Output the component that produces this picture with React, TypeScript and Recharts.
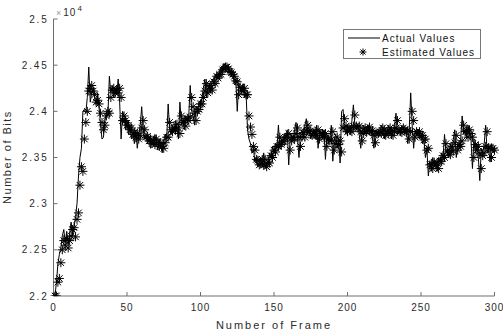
import { ComposedChart, Line, XAxis, YAxis, Legend, Label } from "recharts";

// bits per frame, frames 1..300
const actualBits = [
  22000, 22150, 22350, 22450, 22520, 22650, 22720, 22580, 22700, 22560,
  22680, 22800, 22650, 22750, 22860, 23000, 23300, 23500, 23600, 24000,
  24020, 23980, 24150, 24480, 24100, 24200, 24250, 24150, 24080, 24200,
  24050, 23850, 23700, 23720, 23900, 23980, 23950, 24380, 24200, 24280,
  24150, 24250, 24180, 24350, 24100, 23700, 24000, 23950, 23800, 23900,
  23750, 23850, 23700, 23780, 23650, 23800, 23600, 23750, 23850, 24050,
  23800, 23700, 23750, 23650, 23720, 23600, 23700, 23620, 23750, 23650,
  23580, 23700, 23620, 23550, 23680, 23750, 23700, 24080, 23800, 23750,
  23850, 23780, 23900, 23800, 23700, 24100, 23850, 23900, 23800, 23950,
  23880, 23950, 24280, 24000, 23950, 23850, 24050, 24000, 24100, 24050,
  24150, 24250, 24350, 24150, 24250, 24300, 24200, 24350, 24300, 24400,
  24350, 24420, 24380, 24480, 24450, 24520, 24480, 24500, 24420, 24450,
  24380, 24420, 24300, 24350, 24000, 24300, 24250, 24200, 24300, 24150,
  24200, 23800, 23700, 23650, 23550, 23600, 23450, 23500, 23400, 23450,
  23500, 23400, 23550, 23380, 23450, 23420, 23550, 23500, 23620, 23550,
  23650, 23600, 23850, 23600, 23700, 23650, 23750, 23700, 23800, 23420,
  23700, 23750, 23680, 23800, 23880, 23700, 23500, 23750, 23800, 23700,
  23850, 23920, 23750, 23800, 23700, 23750, 23800, 23700, 23850, 23600,
  23800, 23750, 23700, 23800, 23480, 23750, 23650, 23700, 23850, 23460,
  23700, 23750, 23600, 23700, 23440, 24000, 24020, 23800, 23750, 23850,
  23800, 23750, 23900, 24070, 23850, 23800, 23850, 23750, 23600, 23800,
  23850, 23750, 23800, 23850, 23750, 23800, 23700, 23600, 23800, 23750,
  23800, 23750, 23850, 23800, 23700, 23800, 23750, 23850, 23780, 23700,
  23800, 23850, 23980, 23750, 23800, 23750, 23850, 23800, 23750, 23800,
  23650, 23800, 24200, 23850, 23600, 23800, 23750, 23800, 23700, 23750,
  23650, 23700, 23500, 23600, 23300, 23450, 23350, 23500, 23400, 23450,
  23350, 23500, 23450, 23550, 23500, 23750, 23550, 23600, 23500, 23650,
  23550, 23700, 23800, 23500, 23650, 23600, 23700, 23950, 23750, 23800,
  23700, 23850, 23750, 23700, 23380, 23700, 23550, 23650, 23500, 23250,
  23600, 23550, 23650, 23850, 23550, 23600, 23450, 23650, 23550, 23600,
];

const estimatedBits = [
  22000, 22000, 22150, 22190, 22360, 22500, 22600, 22550, 22620, 22520,
  22600, 22650, 22720, 22740, 22640, 22830, 22900, 23200, 23400, 23350,
  23700, 23880, 24000, 24220, 24250, 24280, 24220, 24180, 24100, 24120,
  24080, 23980, 23880, 23800, 23850, 23950, 24000, 23980, 24150, 24230,
  24250, 24200, 24230, 24200, 24250, 24150, 23900, 23950, 23900, 23850,
  23850, 23800, 23820, 23750, 23770, 23720, 23760, 23700, 23740, 23820,
  23900, 23800, 23720, 23730, 23680, 23700, 23650, 23680, 23640, 23700,
  23660, 23620, 23660, 23620, 23600, 23660, 23720, 23720, 23880, 23800,
  23780, 23820, 23800, 23860, 23820, 23760, 23950, 23880, 23900, 23840,
  23920, 23900, 23940, 24150, 24050, 23980, 23900, 24000, 24020, 24080,
  24080, 24150, 24220, 24300, 24200, 24250, 24280, 24230, 24320, 24300,
  24380, 24360, 24400, 24400, 24450, 24460, 24480, 24480, 24460, 24430,
  24420, 24400, 24380, 24330, 24320, 24180, 24260, 24230, 24220, 24250,
  24180, 24180, 23950, 23830, 23750, 23620, 23580, 23480, 23470, 23420,
  23430, 23480, 23420, 23480, 23400, 23450, 23440, 23520, 23500, 23580,
  23560, 23620, 23620, 23720, 23640, 23680, 23670, 23720, 23720, 23760,
  23580, 23680, 23720, 23700, 23760, 23820, 23720, 23620, 23720, 23770,
  23720, 23800, 23850, 23780, 23790, 23740, 23760, 23780, 23740, 23800,
  23700, 23760, 23760, 23720, 23760, 23620, 23700, 23680, 23690, 23780,
  23580, 23650, 23720, 23640, 23680, 23560, 23820, 23920, 23840, 23780,
  23820, 23800, 23780, 23840, 23960, 23840, 23820, 23840, 23780, 23680,
  23760, 23820, 23780, 23800, 23830, 23780, 23790, 23740, 23660, 23760,
  23760, 23780, 23760, 23820, 23800, 23740, 23780, 23760, 23820, 23790,
  23740, 23780, 23820, 23900, 23800, 23780, 23770, 23820, 23800, 23780,
  23790, 23700, 23780, 24000, 23900, 23720, 23780, 23760, 23780, 23740,
  23740, 23690, 23700, 23580, 23600, 23420, 23430, 23380, 23450, 23420,
  23440, 23380, 23460, 23460, 23520, 23500, 23650, 23560, 23580, 23530,
  23620, 23570, 23660, 23740, 23580, 23640, 23620, 23680, 23850, 23780,
  23790, 23720, 23800, 23760, 23720, 23500, 23640, 23580, 23620, 23540,
  23380, 23520, 23550, 23620, 23780, 23600, 23600, 23500, 23600, 23580,
];

const xTicks = [0, 50, 100, 150, 200, 250, 300];
const yTicks = [22000, 22500, 23000, 23500, 24000, 24500, 25000];

const data = actualBits.map((v, i) => ({
  frame: i + 1,
  actual: v,
  estimated: estimatedBits[i],
}));

const FONT = "'Liberation Sans', Arial, sans-serif";
const AXIS = "#6e6e6e";
const TEXT = "#2b2b2b";

function starPath(cx: number, cy: number, r = 4.5) {
  const d = r * 0.72;
  return `M${cx - r},${cy}L${cx + r},${cy}M${cx},${cy - r}L${cx},${cy + r}` +
    `M${cx - d},${cy - d}L${cx + d},${cy + d}M${cx - d},${cy + d}L${cx + d},${cy - d}`;
}

const Star = (props: any) => {
  const { cx, cy, index } = props;
  if (cx == null || cy == null) return <g key={index} />;
  return <path key={index} d={starPath(cx, cy)} stroke="#000" strokeWidth={1} fill="none" />;
};

const renderLegend = () => (
  <div
    style={{
      width: 136,
      height: 28,
      border: "1px solid #777",
      background: "#fff",
      position: "relative",
    }}
  >
    <svg width={136} height={28} style={{ position: "absolute", left: 0, top: 0 }}>
      <line x1={4} y1={8} x2={36} y2={8} stroke="#000" strokeWidth={1} />
      <path d={starPath(19, 22, 3.5)} stroke="#000" strokeWidth={1} fill="none" />
      <text x={38} y={11.5} fontFamily={FONT} fontSize={10} fill="#111" style={{ letterSpacing: 1 }}>Actual Values</text>
      <text x={38} y={25.5} fontFamily={FONT} fontSize={10} fill="#111" style={{ letterSpacing: 1 }}>Estimated Values</text>
    </svg>
  </div>
);

const yTitle = () => (
  <g>
    <text
      x={11}
      y={157}
      transform="rotate(-90, 11, 157)"
      textAnchor="middle"
      fontFamily={FONT}
      fontSize={11}
      fill={TEXT}
      style={{ letterSpacing: 1.5 }}
    >
      Number of Bits
    </text>
    <text x={56} y={16} fontFamily={FONT} fontSize={10} fill={TEXT}>
      <tspan fill="#999" fontSize={9}>×</tspan>
      <tspan dx={2} style={{ letterSpacing: 1 }}>10</tspan>
      <tspan dx={1} dy={-5} fontSize={8}>4</tspan>
    </text>
  </g>
);

export default function App() {
  return (
    <div style={{ position: "absolute", left: 0, top: 0, width: 503, height: 335, background: "#fff" }}>
      <ComposedChart
        width={503}
        height={335}
        data={data}
        margin={{ top: 19, right: 8.5, bottom: 0, left: 0 }}
      >
        <XAxis
          dataKey="frame"
          type="number"
          domain={[0, 300]}
          ticks={xTicks}
          interval={0}
          height={39}
          tickSize={-4}
          tickMargin={12}
          axisLine={{ stroke: AXIS }}
          tickLine={{ stroke: AXIS }}
          tick={{ fontFamily: FONT, fontSize: 10, fill: TEXT, letterSpacing: 1 }}
        >
          <Label
            value="Number of Frame"
            position="insideBottom"
            offset={6}
            style={{ fontFamily: FONT, fontSize: 11, fill: TEXT, letterSpacing: 2 }}
          />
        </XAxis>
        <YAxis
          type="number"
          domain={[22000, 25000]}
          ticks={yTicks}
          interval={0}
          width={53.5}
          tickSize={-4}
          tickMargin={9}
          allowDataOverflow
          axisLine={{ stroke: AXIS }}
          tickLine={{ stroke: AXIS }}
          tickFormatter={(v: number) => String(v / 10000)}
          tick={{ fontFamily: FONT, fontSize: 10, fill: TEXT, letterSpacing: 1.8 }}
        >
          <Label content={yTitle} />
        </YAxis>
        <Legend
          layout="vertical"
          align="center"
          verticalAlign="middle"
          content={renderLegend}
          wrapperStyle={{ position: "absolute", left: 343, top: 29, width: 138, height: 30 }}
        />
        <Line
          dataKey="actual"
          type="linear"
          stroke="#000"
          strokeWidth={1}
          dot={false}
          activeDot={false}
          isAnimationActive={false}
        />
        <Line
          dataKey="estimated"
          type="linear"
          stroke="none"
          dot={Star}
          activeDot={false}
          isAnimationActive={false}
        />
      </ComposedChart>
    </div>
  );
}
